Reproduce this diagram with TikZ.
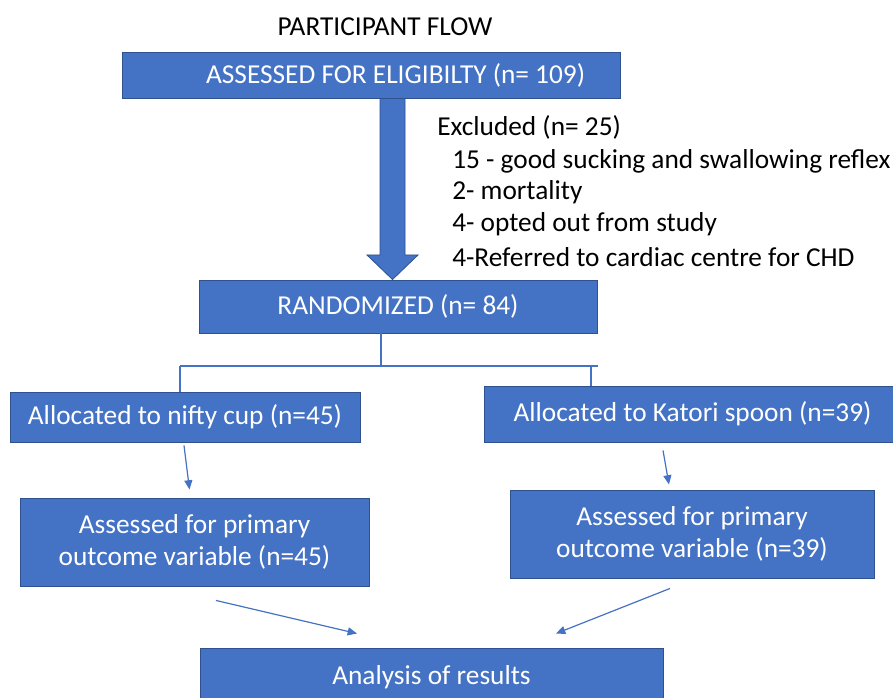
\documentclass[tikz,border=0pt]{standalone}
\usepackage{fontspec}
\setmainfont{Carlito}
\usetikzlibrary{calc,arrows.meta}
\definecolor{obl}{HTML}{4472C4}
\definecolor{obd}{HTML}{2F528F}
\tikzset{
  box/.style={draw=obd, line width=0.7pt, fill=obl, text=white, align=center, inner sep=0pt, font=\fontsize{20.5}{23.5}\selectfont},
  conn/.style={draw=obl, line width=0.9pt},
  arr/.style={conn, -{Triangle[length=7pt,width=6pt]}},
  plain/.style={font=\fontsize{20.5}{24}\selectfont, inner sep=0pt, anchor=base west}
}
\begin{document}
\begin{tikzpicture}[x=0.75pt,y=-0.75pt]
\useasboundingbox[fill=white] (0,0) rectangle (893,698);
\clip (0,0) rectangle (893,698);
\node[plain, anchor=base] (title) at (385,36) {PARTICIPANT FLOW};
\node[box, minimum width=373.5pt, minimum height=34.5pt] (elig) at (371,75) {\hspace*{37pt}ASSESSED FOR ELIGIBILTY (n= 109)};
\node[box, minimum width=298.5pt, minimum height=39.75pt] (rand) at (398,306.5) {RANDOMIZED (n= 84)};
% big arrow
\coordinate (tip) at (392.5,280);
\filldraw[fill=obl, draw=obd, line width=0.6pt]
  (elig.south -| 380,0) -- (380,255) -- (367,255) -- (rand.north -| tip) -- (418,255) -- (405,255) -- (elig.south -| 405,0) -- cycle;
% exclusion text
\node[plain] (exc) at (437,136) {Excluded (n= 25)};
\node[plain] (e1) at (452,169) {15 - good sucking and swallowing reflex};
\node[plain] (e2) at (452,200) {2- mortality};
\node[plain] (e3) at (452,232) {4- opted out from study};
\node[plain] (e4) at (452,267) {4-Referred to cardiac centre for CHD};
% allocation
\node[box, minimum width=262.5pt, minimum height=37.5pt] (al) at (185,417) {Allocated to nifty cup (n=45)};
\node[box, minimum width=306.75pt, minimum height=42pt] (ar) at (688.5,414) {\hspace*{6pt}Allocated to Katori spoon (n=39)};
\coordinate (split) at (381,366);
\coordinate (hl) at (180,366);
\coordinate (hr) at (598,366);
\coordinate (rd) at (591,366);
\draw[conn] (rand.south -| split) -- (split);
\draw[conn] (hl) -- (hr);
\draw[conn] (hl) -- (hl |- al.north);
\draw[conn] (rd) -- (rd |- ar.north);
% assessed
\node[box, minimum width=261.75pt, minimum height=66pt] (al2) at (194.5,542) {Assessed for primary\\outcome variable (n=45)};
\node[box, minimum width=273pt, minimum height=66pt] (ar2) at (692,534) {Assessed for primary\\outcome variable (n=39)};
\draw[arr] ($(al.south)+(-1,3)$) -- ($(al2.north)+(-5,-8)$);
\draw[arr] ($(ar.south)+(-25.5,8)$) -- ($(ar2.north)+(-23,-5)$);
% results
\node[box, minimum width=347.25pt, minimum height=43.5pt] (res) at (431.5,677) {Analysis of results};
\draw[arr] ($(al2.south)+(21.5,14)$) -- ($(res.north)+(-74.5,-14)$);
\draw[arr] ($(ar2.south)+(-22,10)$) -- ($(res.north)+(124.5,-14)$);
\end{tikzpicture}
\end{document}
